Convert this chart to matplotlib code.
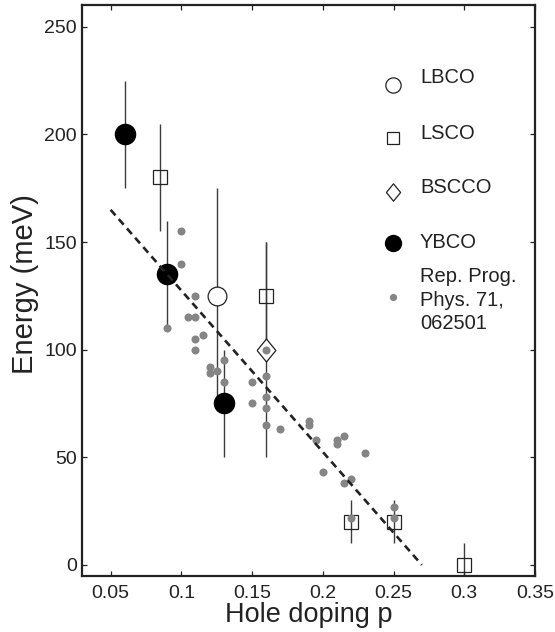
"""
Energy scale vs hole doping for several cuprate families,
with literature points (Rep. Prog. Phys. 71, 062501) and a linear guide.
"""
import numpy as np
import matplotlib
matplotlib.use("Agg")
import matplotlib.pyplot as plt

plt.rcParams["font.family"] = ["Liberation Sans", "DejaVu Sans"]

# --- data ---
lbco_p = [0.125]
lbco_e = [125]
lbco_err = [50]

lsco_p = [0.085, 0.16, 0.22, 0.25, 0.30]
lsco_e = [180, 125, 20, 20, 0]
lsco_err = [25, 25, 10, 10, 10]

bscco_p = [0.16]
bscco_e = [100]
bscco_err = [50]

ybco_p = [0.06, 0.09, 0.13]
ybco_e = [200, 135, 75]
ybco_err = [25, 25, 25]

lit_p = [0.10, 0.10, 0.09, 0.11, 0.105, 0.11, 0.115, 0.11, 0.11, 0.12,
         0.12, 0.125, 0.13, 0.13, 0.15, 0.16, 0.16, 0.16, 0.15, 0.16,
         0.16, 0.17, 0.19, 0.19, 0.195, 0.21, 0.21, 0.215, 0.23, 0.20,
         0.22, 0.215, 0.25, 0.22, 0.25]
lit_e = [155, 140, 110, 125, 115, 115, 107, 105, 100, 92,
         89, 90, 95, 85, 85, 100, 88, 78, 75, 73,
         65, 63, 67, 65, 58, 58, 56, 60, 52, 43,
         40, 38, 27, 22, 22]

fit_p = [0.05, 0.27]
fit_e = [165, 0]

xticks = [0.05, 0.1, 0.15, 0.2, 0.25, 0.3, 0.35]
xticklabels = ["0.05", "0.1", "0.15", "0.2", "0.25", "0.3", "0.35"]
yticks = [0, 50, 100, 150, 200, 250]

ink = "#222222"
bar_col = "#3c3c3c"
dot_col = "#858585"
diamond = [(-0.41, 0), (0, 0.5), (0.41, 0), (0, -0.5), (-0.41, 0)]

fig = plt.figure(figsize=(5.55, 6.32), dpi=100)
ax = fig.add_axes([0.1483, 0.0891, 0.8157, 0.9025])

# error bars (vertical only)
for p, e, err in [(lbco_p, lbco_e, lbco_err), (lsco_p, lsco_e, lsco_err),
                  (bscco_p, bscco_e, bscco_err), (ybco_p, ybco_e, ybco_err)]:
    ax.errorbar(p, e, yerr=err, fmt="none", ecolor=bar_col, elinewidth=1.0,
                capsize=0, zorder=1)

ax.plot(lbco_p, lbco_e, "o", ms=13.5, mfc="white", mec=ink, mew=0.9, zorder=2)
ax.plot(lsco_p, lsco_e, "s", ms=10.5, mfc="none", mec=ink, mew=0.9, zorder=2)
ax.plot(bscco_p, bscco_e, marker=diamond, ls="none", ms=16.5, mfc="white",
        mec=ink, mew=0.9, zorder=2)
ax.plot(ybco_p, ybco_e, "o", ms=14.5, color="black", zorder=3)
ax.plot(lit_p, lit_e, "o", ms=5.8, color=dot_col, mew=0, zorder=4)

ax.plot(fit_p, fit_e, color=ink, lw=1.9, dashes=(2.8, 1.9), zorder=5)

# legend drawn by hand to match the layout
# (text y is the baseline of the last line)
leg_x, txt_x = 0.6863, 0.746
leg = [("o", dict(ms=11, mfc="white", mec=ink, mew=0.9), 0.8603, 0.8633, "LBCO"),
       ("s", dict(ms=8.5, mfc="white", mec=ink, mew=0.9), 0.7679, 0.7663, "LSCO"),
       (diamond, dict(ms=12.5, mfc="white", mec=ink, mew=0.9), 0.6732, 0.6716, "BSCCO"),
       ("o", dict(ms=12.5, mfc="black", mec="black", mew=0), 0.5838, 0.5752, "YBCO"),
       ("o", dict(ms=5.2, mfc=dot_col, mec=dot_col, mew=0), 0.4892, 0.4321,
        "Rep. Prog.\nPhys. 71,\n062501")]
for m, kw, my, ty, label in leg:
    ax.plot([leg_x], [my], marker=m, ls="none", transform=ax.transAxes,
            clip_on=False, **kw)
    ax.text(txt_x, ty, label, transform=ax.transAxes, fontsize=14.5,
            color=ink, ha="left", va="baseline", linespacing=1.3)

ax.set_xlim(0.03, 0.35)
ax.set_ylim(-5, 260)
ax.set_xticks(xticks)
ax.set_xticklabels(xticklabels)
ax.set_yticks(yticks)
ax.tick_params(direction="in", top=True, right=True, length=3.6, width=0.9,
               labelsize=14, colors=ink)
ax.tick_params(axis="x", pad=7)
ax.tick_params(axis="y", pad=4)
for s in ax.spines.values():
    s.set_linewidth(1.6)
    s.set_color(ink)

fig.text(308.3 / 555, 1 - 621.5 / 632, "Hole doping p", fontsize=19.5, color=ink,
         ha="center", va="baseline")
fig.text(33.5 / 555, 1 - 283.8 / 632, "Energy (meV)", fontsize=21, color=ink,
         rotation=90, rotation_mode="anchor", ha="center", va="baseline")

fig.savefig("out.png", dpi=100)
